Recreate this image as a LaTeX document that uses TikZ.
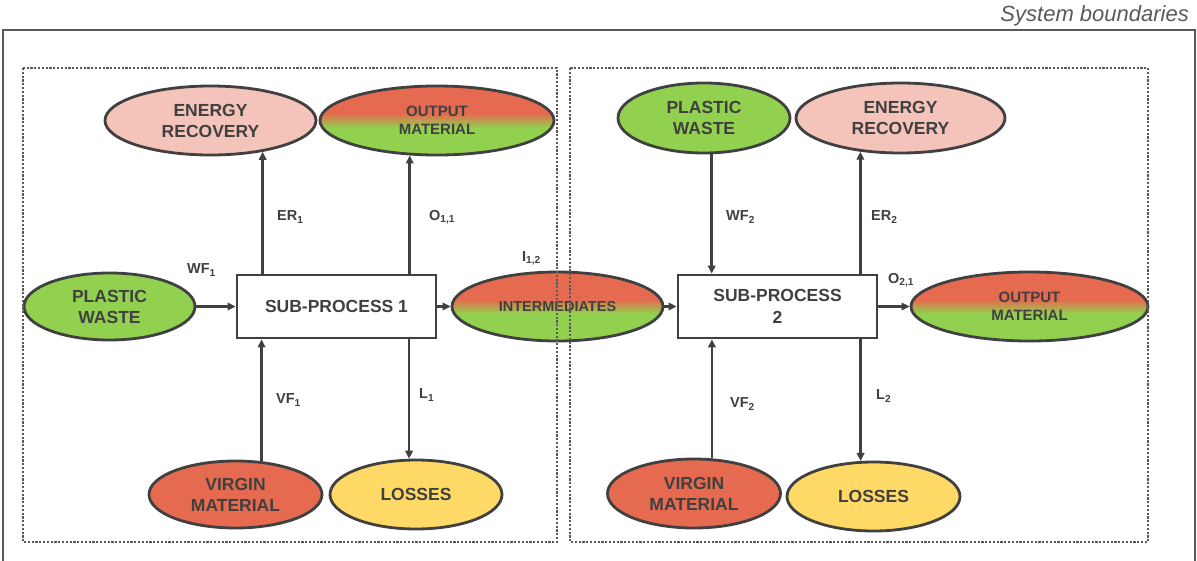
\documentclass[tikz,border=0pt]{standalone}
\usepackage{fontspec}
\setmainfont{Liberation Sans}
\usetikzlibrary{shapes.geometric,arrows.meta}

\definecolor{ink}{HTML}{404040}
\definecolor{edgegray}{HTML}{595959}
\definecolor{fillgreen}{HTML}{92D050}
\definecolor{fillred}{HTML}{E56A4F}
\definecolor{fillpink}{HTML}{F4C4BA}
\definecolor{fillyellow}{HTML}{FFD966}

% red upper half blending into green lower half
\pgfdeclareverticalshading{redgreen}{100bp}{color(0bp)=(fillgreen); color(45bp)=(fillgreen); color(55bp)=(fillred); color(100bp)=(fillred)}

\tikzset{
  blob/.style={ellipse, draw=ink, line width=2.8pt, text=ink, align=center, inner sep=0pt,
               font=\bfseries\fontsize{17.5}{21}\selectfont},
  mixed/.style={blob, shade, shading=redgreen, font=\bfseries\fontsize{15}{18.3}\selectfont},
  proc/.style={rectangle, draw=ink, line width=2.8pt, fill=white, text=ink, align=center,
               minimum width=199pt, minimum height=63pt, inner sep=0pt,
               font=\bfseries\fontsize{17.5}{22}\selectfont},
  flow/.style={-{Triangle[length=8pt,width=7.5pt]}, draw=ink, line width=2.6pt},
  flowlabel/.style={anchor=west, text=ink, inner sep=0pt, font=\bfseries\fontsize{14.5}{16}\selectfont},
  zone/.style={draw=edgegray, line width=2.4pt, dash pattern=on 2.2pt off 1.6pt},
  boundary/.style={draw=edgegray, line width=2.6pt},
  caption/.style={anchor=base east, text=edgegray, inner sep=0pt, font=\itshape\fontsize{22}{26}\selectfont}
}

\begin{document}
\begin{tikzpicture}[x=1pt,y=-1pt]
\useasboundingbox (0,0) rectangle (1197,560);
\clip (0,0) rectangle (1197,560);

% overall system boundary
\draw[boundary] (3,30) rectangle (1195,600);
\node[caption] (sysb) at (1189,21.5) {System boundaries};

% sub-process 1 and its flows
\node[proc] (sp1) at (336.5,306.5) {SUB-PROCESS 1};
\node[blob, fill=fillgreen, minimum width=171pt, minimum height=67pt] (pw1) at (109.5,306.5) {PLASTIC\\WASTE};
\node[blob, fill=fillpink, minimum width=211pt, minimum height=69pt] (er1) at (210.5,120.5) {ENERGY\\RECOVERY};
\node[mixed, minimum width=234pt, minimum height=69pt] (out1) at (437,120.5) {OUTPUT\\MATERIAL};
\node[blob, fill=fillred, minimum width=173pt, minimum height=67pt] (vm1) at (235.5,494.5) {VIRGIN\\MATERIAL};
\node[blob, fill=fillyellow, minimum width=172pt, minimum height=69pt] (ls1) at (416,494.5) {LOSSES};

% intermediate stream between the two sub-processes
\node[mixed, font=\bfseries\fontsize{14.5}{17}\selectfont, minimum width=211pt, minimum height=69pt] (int) at (557.5,306.5) {INTERMEDIATES};

% sub-process 2 and its flows
\node[proc] (sp2) at (777.5,306.5) {SUB-PROCESS\\2};
\node[blob, fill=fillgreen, minimum width=172pt, minimum height=70pt] (pw2) at (704,118) {PLASTIC\\WASTE};
\node[blob, fill=fillpink, minimum width=209pt, minimum height=70pt] (er2) at (900.5,118) {ENERGY\\RECOVERY};
\node[mixed, minimum width=237pt, minimum height=69pt] (out2) at (1029.5,306.5) {OUTPUT\\MATERIAL};
\node[blob, fill=fillred, minimum width=173pt, minimum height=69pt] (vm2) at (694,493.5) {VIRGIN\\MATERIAL};
\node[blob, fill=fillyellow, minimum width=173pt, minimum height=69pt] (ls2) at (873.5,496.5) {LOSSES};

% horizontal flows
\draw[flow] (pw1.east) -- (sp1.west);
\draw[flow] (sp1.east) -- (int.west);
\draw[flow] (int.east) -- (sp2.west);
\draw[flow] (sp2.east) -- (out2.west);

% vertical flows, sub-process 1
\draw[flow] (sp1.north -| er1.-31) -- (er1.-31);
\draw[flow] (sp1.north -| out1.-128) -- (out1.-128);
\draw[flow] (vm1.52) -- (vm1.52 |- sp1.south);
\draw[flow] (sp1.south -| ls1.101) -- (ls1.101);

% vertical flows, sub-process 2
\draw[flow] (pw2.-78) -- (pw2.-78 |- sp2.north);
\draw[flow] (sp2.north -| er2.-140) -- (er2.-140);
\draw[flow] (vm2.63) -- (vm2.63 |- sp2.south);
\draw[flow] (sp2.south -| ls2.110) -- (ls2.110);

% flow labels
\node[flowlabel] (lwf1) at (187,270) {WF\textsubscript{1}};
\node[flowlabel] (ler1) at (277,217) {ER\textsubscript{1}};
\node[flowlabel] (lo11) at (429,217) {O\textsubscript{1,1}};
\node[flowlabel] (li12) at (522,258) {I\textsubscript{1,2}};
\node[flowlabel] (lvf1) at (276,400) {VF\textsubscript{1}};
\node[flowlabel] (ll1) at (419,395) {L\textsubscript{1}};
\node[flowlabel] (lwf2) at (726,217) {WF\textsubscript{2}};
\node[flowlabel] (ler2) at (871,217) {ER\textsubscript{2}};
\node[flowlabel] (lo21) at (888,280) {O\textsubscript{2,1}};
\node[flowlabel] (lvf2) at (730,404) {VF\textsubscript{2}};
\node[flowlabel] (ll2) at (876,396) {L\textsubscript{2}};

% dotted sub-process zones, on top
\draw[zone] (23,68) rectangle (557,542);
\draw[zone] (570,68) rectangle (1148,542);
\end{tikzpicture}
\end{document}
